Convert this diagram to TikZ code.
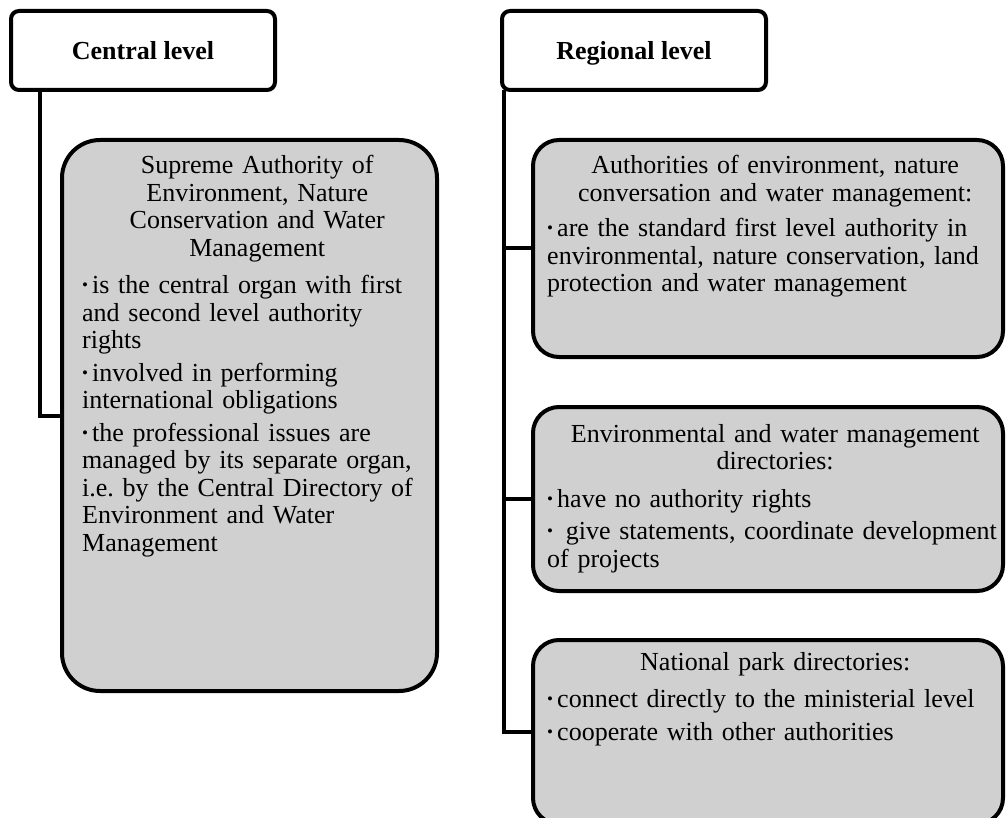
\documentclass[tikz,border=0pt]{standalone}
\usepackage{fontspec}
\setmainfont{Liberation Serif}
\usetikzlibrary{positioning}
\definecolor{boxgray}{RGB}{208,208,208}
\newcommand{\bitem}{\par\vspace{5pt}\hangindent=10pt\hangafter=1\noindent\makebox[10pt][l]{\raisebox{3pt}{\fontsize{17}{17}\selectfont\textbullet}}}

\begin{document}
\frenchspacing
\begin{tikzpicture}[x=1pt, y=-1pt,
    level/.style={draw, line width=4pt, rounded corners=8pt, outer sep=0pt, minimum width=264pt, minimum height=79pt, text height=24pt, text depth=5pt, font=\fontsize{26}{28}\selectfont\bfseries},
    unit/.style={draw, line width=4pt, fill=boxgray, outer sep=0pt, inner sep=0pt},
    unittext/.style={anchor=north west, inner sep=0pt, align=left, font=\fontsize{26}{27.5}\selectfont},
    link/.style={line width=4pt}]
        \useasboundingbox (0,0) rectangle (1006,818);
        \clip (0,0) rectangle (1006,818);

        % Levels
        \node (central) [level] at (143,50.5) {Central level};
        \node (regional) [level, right=227pt of central] {Regional level};

        % Central unit
        \node (supreme) [unit, rounded corners=38pt, minimum width=375pt, minimum height=551pt] at (249.5,415.5) {};
        \node (supremetxt) [unittext, text width=350pt] at ([xshift=20pt,yshift=-15pt]supreme.north west) {%
            {\centering Supreme Authority of\\ Environment, Nature\\ Conservation and Water\\ Management\par}\vspace{5pt}
            \bitem is the central organ with first\\ and second level authority\\ rights
            \bitem involved in performing\\ international obligations
            \bitem the professional issues are\\ managed by its separate organ,\\ i.e. by the Central Directory of\\ Environment and Water\\ Management};

        % Regional units
        \node (authorities) [unit, rounded corners=26pt, minimum width=470pt, minimum height=217pt] at (768,248.5) {};
        \node (directories) [unit, rounded corners=26pt, minimum width=470pt, minimum height=184pt, below=50pt of authorities] {};
        \node (parks) [unit, rounded corners=26pt, minimum width=470pt, minimum height=184pt, below=49pt of directories] {};

        \node (authoritiestxt) [unittext, text width=456pt] at ([xshift=14pt,yshift=-15pt]authorities.north west) {%
            {\centering Authorities of environment, nature\\ conversation and water management:\par}\vspace{3pt}
            \bitem are the standard first level authority in\\ environmental, nature conservation, land\\ protection and water management};
        \node (directoriestxt) [unittext, text width=456pt] at ([xshift=14pt,yshift=-17pt]directories.north west) {%
            {\centering Environmental and water management\\ directories:\par}\vspace{5pt}
            \bitem have no authority rights
            \bitem\ give statements, coordinate development\\ of projects};
        \node (parkstxt) [unittext, text width=456pt] at ([xshift=14pt,yshift=-12pt]parks.north west) {%
            {\centering National park directories:\par}\vspace{5pt}
            \bitem connect directly to the ministerial level
            \bitem cooperate with other authorities};

        % Links
        \draw [link] ([xshift=29pt]central.south west) |- (supreme.west);
        \draw [link] ([xshift=2pt]regional.south west) |- (parks.west);
        \draw [link] ([xshift=2pt]regional.south west) |- (authorities.west);
        \draw [link] ([xshift=2pt]regional.south west) |- (directories.west);
    \end{tikzpicture}
\end{document}
